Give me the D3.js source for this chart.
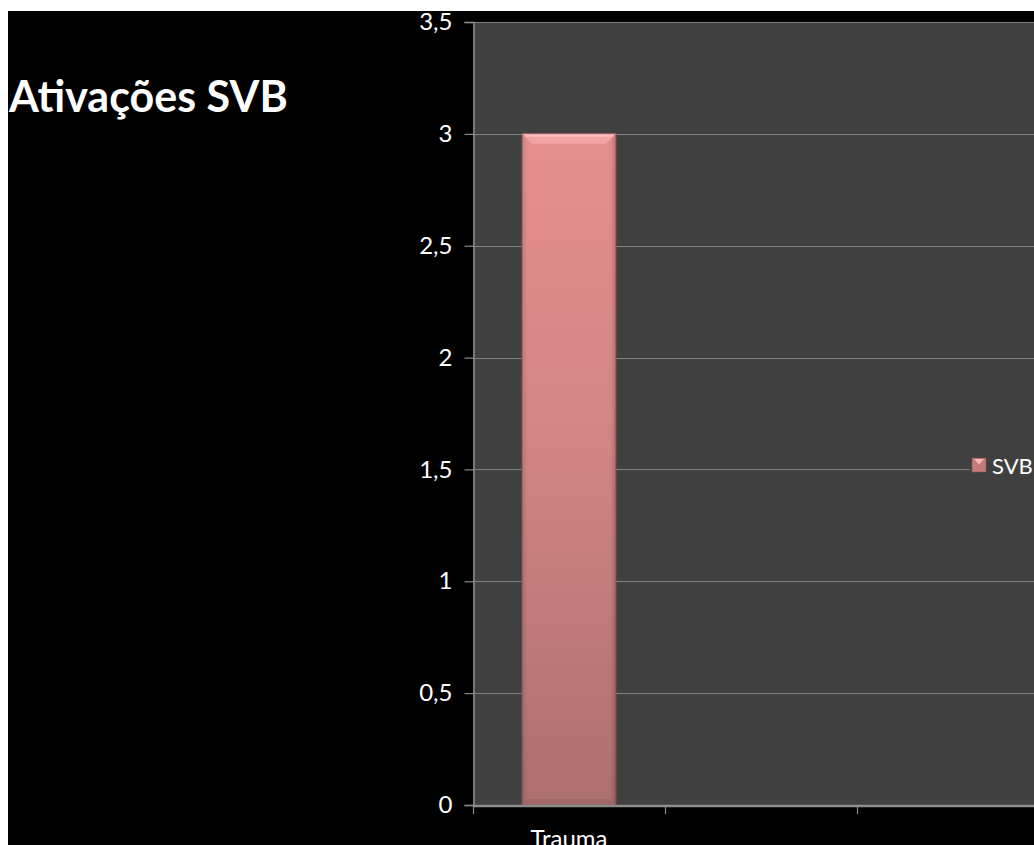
<!DOCTYPE html>
<html>
<head>
<meta charset="utf-8">
<script src="https://cdn.jsdelivr.net/npm/d3@7"></script>
<style>
html,body{margin:0;padding:0;background:#fff;}
svg{display:block;}
</style>
</head>
<body>
<svg id="chart" width="1034" height="845"></svg>
<script>
const title = "Ativações SVB";
const categories = ["Trauma", "", ""];
const seriesName = "SVB";
const values = [3, null, null];
const yTicks = [0, 0.5, 1, 1.5, 2, 2.5, 3, 3.5];

const svg = d3.select("#chart");
const W = 1034, H = 845;

svg.append("rect").attr("x", 0).attr("y", 0).attr("width", W).attr("height", H).attr("fill", "#fff");
svg.append("rect").attr("x", 8).attr("y", 11).attr("width", W - 8).attr("height", H - 11).attr("fill", "#000");

const plot = {left: 473, top: 22, bottom: 805, right: 1049};

const x = d3.scaleBand().domain(categories.map((d, i) => i)).range([plot.left, plot.right]).paddingInner(0).paddingOuter(0);
const y = d3.scaleLinear().domain([0, 3.5]).range([plot.bottom, plot.top]);

svg.append("rect").attr("x", plot.left).attr("y", plot.top)
  .attr("width", plot.right - plot.left).attr("height", plot.bottom - plot.top)
  .attr("fill", "#404040");

svg.append("g").selectAll("line").data(yTicks.filter(d => d > 0)).join("line")
  .attr("x1", plot.left).attr("x2", plot.right)
  .attr("y1", d => Math.round(y(d)) + 0.5).attr("y2", d => Math.round(y(d)) + 0.5)
  .attr("stroke", "#7f7f7f").attr("stroke-width", 1.2);

const defs = svg.append("defs");
const g1 = defs.append("linearGradient").attr("id", "barGrad").attr("x1", 0).attr("x2", 0).attr("y1", 0).attr("y2", 1);
g1.append("stop").attr("offset", "0%").attr("stop-color", "#e68e8d");
g1.append("stop").attr("offset", "45%").attr("stop-color", "#d38584");
g1.append("stop").attr("offset", "100%").attr("stop-color", "#ad6f6f");
const g2 = defs.append("linearGradient").attr("id", "sideGrad").attr("x1", 0).attr("x2", 1).attr("y1", 0).attr("y2", 0);
g2.append("stop").attr("offset", "0%").attr("stop-color", "#000").attr("stop-opacity", 0.12);
g2.append("stop").attr("offset", "6%").attr("stop-color", "#000").attr("stop-opacity", 0);
g2.append("stop").attr("offset", "94%").attr("stop-color", "#000").attr("stop-opacity", 0);
g2.append("stop").attr("offset", "100%").attr("stop-color", "#000").attr("stop-opacity", 0.18);

const barW = 94;
const bars = svg.append("g");
values.forEach((v, i) => {
  if (v == null) return;
  const cx = x(i) + x.bandwidth() / 2;
  const bx = cx - barW / 2;
  const by = y(v);
  const bh = y(0) - y(v);
  bars.append("rect").attr("x", bx).attr("y", by).attr("width", barW).attr("height", bh)
    .attr("fill", "url(#barGrad)").attr("stroke", "#8a5252").attr("stroke-width", 0.8);
  bars.append("rect").attr("x", bx).attr("y", by).attr("width", barW).attr("height", bh)
    .attr("fill", "url(#sideGrad)");
  bars.append("path")
    .attr("d", `M${bx},${by} L${bx + barW},${by} L${bx + barW - 10},${by + 10} L${bx + 10},${by + 10} Z`)
    .attr("fill", "#f4a5a3").attr("opacity", 0.9);
  bars.append("line").attr("x1", bx + 3).attr("x2", bx + barW - 3).attr("y1", by + 2).attr("y2", by + 2)
    .attr("stroke", "#ffc8c6").attr("stroke-width", 2).attr("opacity", 0.85);
  bars.append("path")
    .attr("d", `M${bx},${by + bh} L${bx + barW},${by + bh} L${bx + barW - 6},${by + bh - 6} L${bx + 6},${by + bh - 6} Z`)
    .attr("fill", "#9c6262").attr("opacity", 0.6);
});

const yAxis = d3.axisLeft(y).tickValues(yTicks).tickSize(9).tickPadding(12)
  .tickFormat(d => String(d).replace(".", ","));
const ya = svg.append("g").attr("transform", `translate(${plot.left + 0.5},0)`).call(yAxis);
ya.select(".domain").attr("stroke", "#8c8c8c").attr("stroke-width", 1.5);
ya.selectAll(".tick line").attr("stroke", "#8c8c8c").attr("stroke-width", 1.2);
ya.selectAll(".tick text").attr("fill", "#fff").attr("font-family", "Lato, 'Open Sans', sans-serif").attr("font-size", 24);

const xAxis = d3.axisBottom(x).tickSize(0).tickPadding(24).tickFormat(i => categories[i]);
const xa = svg.append("g").attr("transform", `translate(0,${plot.bottom + 0.5})`).call(xAxis);
xa.select(".domain").attr("stroke", "#8c8c8c").attr("stroke-width", 2.5);
xa.selectAll(".tick text").attr("fill", "#fff").attr("font-family", "Lato, 'Open Sans', sans-serif").attr("font-size", 24);
svg.append("g").selectAll("line").data(categories.map((d, i) => i)).join("line")
  .attr("x1", i => x(i) + 0.5).attr("x2", i => x(i) + 0.5)
  .attr("y1", plot.bottom).attr("y2", plot.bottom + 9)
  .attr("stroke", "#8c8c8c").attr("stroke-width", 1.2);

const lg = svg.append("g").attr("transform", "translate(970,466)");
lg.append("rect").attr("x", 0).attr("y", -14).attr("width", 70).attr("height", 28).attr("fill", "#404040");
lg.append("rect").attr("x", 2).attr("y", -8).attr("width", 14).attr("height", 14)
  .attr("fill", "#c47b7b").attr("stroke", "#8a5252").attr("stroke-width", 0.6);
lg.append("path").attr("d", "M4,-7 L14,-7 L9,-1.5 Z").attr("fill", "#f6b7b5");
lg.append("text").attr("x", 22).attr("y", 0).attr("dy", "0.35em")
  .attr("fill", "#fff").attr("font-family", "Lato, 'Open Sans', sans-serif").attr("font-size", 22)
  .text(seriesName);

svg.append("text").attr("x", 9).attr("y", 112)
  .attr("fill", "#fff").attr("font-family", "Lato, 'Open Sans', sans-serif").attr("font-weight", "bold")
  .attr("font-size", 43).text(title);
</script>
</body>
</html>
